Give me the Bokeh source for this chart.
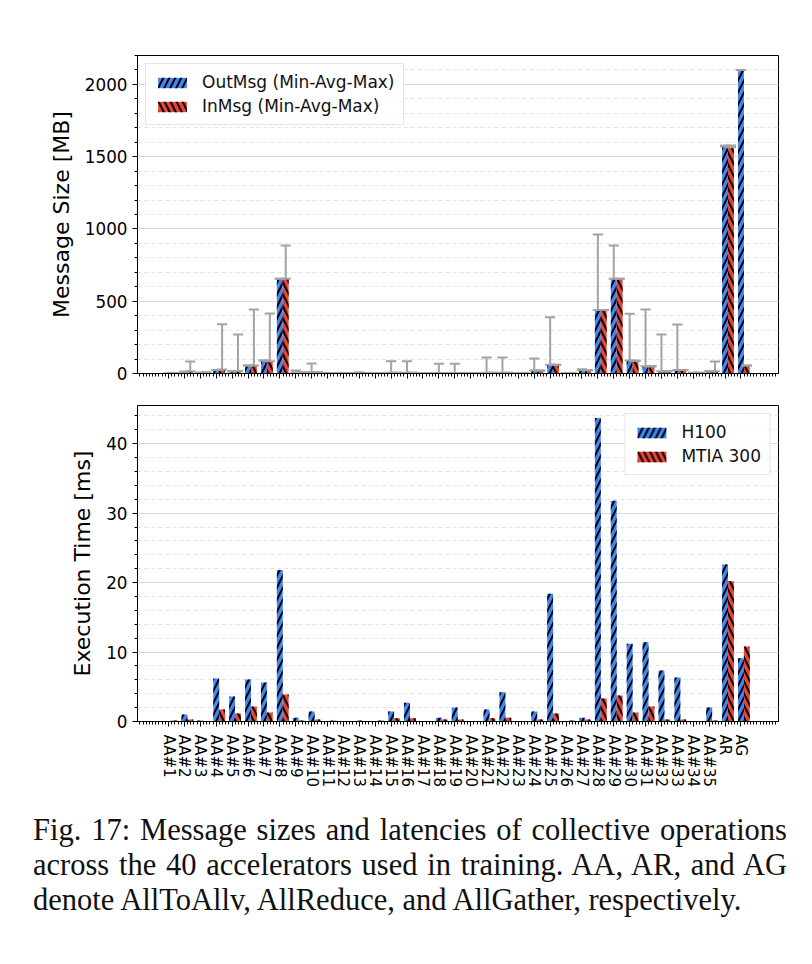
import numpy as np

from bokeh.plotting import figure
from bokeh.models import Range1d, FixedTicker, Legend, LegendItem, Div, ColumnDataSource
from bokeh.layouts import column
from bokeh.embed import file_html
from bokeh.resources import INLINE

# collective ops on the x axis
ops = [f"AA#{i}" for i in range(1, 36)] + ["AR", "AG"]

# message sizes [MB], average per op, and the max of the min-max whisker
out_avg = [1, 12, 5, 25, 15, 55, 90, 655, 8, 10, 1, 1, 3, 1, 5, 5, 1, 4, 4, 1,
           5, 5, 1, 20, 60, 1, 25, 440, 655, 90, 50, 15, 25, 5, 15, 1570, 2100]
in_avg = [1, 15, 5, 28, 18, 55, 85, 655, 8, 10, 1, 1, 3, 1, 5, 5, 1, 4, 4, 1,
          5, 5, 1, 20, 60, 1, 22, 440, 655, 88, 50, 15, 25, 5, 15, 1565, 55]
out_max = [1, 12, 5, 25, 15, 55, 90, 655, 20, 70, 1, 1, 8, 1, 85, 85, 1, 67, 67, 1,
           110, 110, 1, 104, 390, 1, 30, 962, 886, 413, 443, 270, 339, 5, 15, 1578, 2100]
in_max = [1, 83, 8, 340, 270, 443, 415, 886, 8, 10, 1, 1, 3, 1, 5, 5, 1, 4, 4, 1,
          5, 5, 1, 20, 60, 1, 22, 440, 655, 88, 50, 15, 25, 5, 83, 1578, 55]

# execution time [ms]
h100 = [0, 1.0, 0.15, 6.2, 3.6, 6.05, 5.6, 21.8, 0.55, 1.45, 0, 0, 0.15, 0, 1.45, 2.7, 0, 0.55, 2.0, 0,
        1.73, 4.2, 0, 1.45, 18.4, 0, 0.55, 43.7, 31.8, 11.2, 11.4, 7.35, 6.35, 0, 2.0, 22.6, 9.1]
mtia = [0.15, 0.3, 0, 1.73, 1.15, 2.15, 1.3, 3.9, 0.15, 0.3, 0.15, 0, 0, 0.15, 0.45, 0.45, 0, 0.3, 0.3, 0,
        0.45, 0.55, 0, 0.3, 1.15, 0.15, 0.3, 3.3, 3.75, 1.3, 2.15, 0.3, 0.3, 0, 0.15, 20.2, 10.8]

BLUE = "#4285F4"
RED = "#EA4335"
GRAY = "#a3a3a3"
FONT = "DejaVu Sans"
W = 0.37
x = np.arange(len(ops))


def style(p, ylabel, yticks, yminor):
    p.outline_line_color = "black"
    p.xgrid.visible = False
    yt = FixedTicker(ticks=yticks, minor_ticks=yminor)
    p.yaxis.ticker = yt
    p.ygrid.ticker = yt
    p.ygrid.grid_line_color = "#d9d9d9"
    p.ygrid.grid_line_width = 1
    p.ygrid.minor_grid_line_color = "#e3e3e3"
    p.ygrid.minor_grid_line_dash = "4 3"
    p.xaxis.ticker = FixedTicker(ticks=list(range(len(ops))),
                                 minor_ticks=list(np.round(np.arange(-1.8, 38.4, 0.2), 2)))
    for ax in (p.xaxis, p.yaxis):
        ax.axis_line_color = "black"
        ax.major_tick_line_color = "black"
        ax.minor_tick_line_color = "black"
        ax.major_tick_in = 0
        ax.major_tick_out = 5
        ax.minor_tick_in = 0
        ax.minor_tick_out = 3
        ax.major_label_text_color = "black"
        ax.major_label_text_font = FONT
    p.yaxis.major_label_text_font_size = "16.8px"
    p.yaxis.axis_label = ylabel
    p.yaxis.axis_label_text_font = FONT
    p.yaxis.axis_label_text_font_size = "22px"
    p.yaxis.axis_label_text_font_style = "normal"
    p.yaxis.axis_label_text_color = "black"
    p.yaxis.axis_label_standoff = 8


def bars(p, xs, tops, color, hatch):
    return p.vbar(x=xs, top=tops, width=W, fill_color=color, line_color=None,
                  hatch_pattern=hatch, hatch_color="black", hatch_scale=12, hatch_weight=2)


def legend(p, items, loc):
    lg = Legend(items=items, location=loc)
    lg.label_text_font = FONT
    lg.label_text_font_size = "17px"
    lg.label_text_color = "#111111"
    lg.border_line_color = "#cccccc"
    lg.background_fill_alpha = 0.85
    lg.glyph_width = 36
    lg.glyph_height = 13
    lg.label_standoff = 12
    lg.padding = 8
    lg.spacing = 4
    lg.margin = 8
    p.add_layout(lg)


# --- message size
p1 = figure(width=800, height=389, x_range=Range1d(-1.95, 38.36), y_range=Range1d(0, 2200),
            output_backend="svg", toolbar_location=None,
            min_border_left=137, min_border_right=22, min_border_top=55, min_border_bottom=16)
style(p1, "Message Size [MB]", [0, 500, 1000, 1500, 2000], list(range(0, 2201, 100)))
p1.xaxis.major_label_overrides = {i: "" for i in range(len(ops))}

r_out = bars(p1, x, out_avg, BLUE, "/")
r_in = bars(p1, x + W, in_avg, RED, "\\")

for xs, lo, hi in ((x, out_avg, out_max), (x + W, in_avg, in_max)):
    lo = np.array(lo, dtype=float)
    hi = np.array(hi, dtype=float)
    src = ColumnDataSource(dict(x=xs, lo=lo, hi=hi, x0=xs - 0.32, x1=xs + 0.32))
    p1.segment(x0="x", y0="lo", x1="x", y1="hi", source=src, line_color=GRAY, line_width=2)
    p1.segment(x0="x0", y0="lo", x1="x1", y1="lo", source=src, line_color=GRAY, line_width=2)
    p1.segment(x0="x0", y0="hi", x1="x1", y1="hi", source=src, line_color=GRAY, line_width=2)

legend(p1, [LegendItem(label="OutMsg (Min-Avg-Max)", renderers=[r_out]),
            LegendItem(label="InMsg (Min-Avg-Max)", renderers=[r_in])], "top_left")

# --- execution time
p2 = figure(width=800, height=412, x_range=p1.x_range, y_range=Range1d(0, 45.5),
            output_backend="svg", toolbar_location=None,
            min_border_left=137, min_border_right=22, min_border_top=16, min_border_bottom=80)
style(p2, "Execution Time [ms]", [0, 10, 20, 30, 40], list(range(0, 46, 2)))
p2.xaxis.major_label_overrides = {i: ops[i] for i in range(len(ops))}
p2.xaxis.major_label_orientation = "vertical"
p2.xaxis.major_label_text_font_size = "15px"
p2.xaxis.major_label_standoff = 8

r_h = bars(p2, x, h100, BLUE, "/")
r_m = bars(p2, x + W, mtia, RED, "\\")
legend(p2, [LegendItem(label="H100", renderers=[r_h]),
            LegendItem(label="MTIA 300", renderers=[r_m])], "top_right")

just = "text-align:justify;text-align-last:justify;width:754px;"
caption = Div(text=(
    f'<div style="{just}">Fig. 17: Message sizes and latencies of collective operations</div>'
    f'<div style="{just}">across the 40 accelerators used in training. AA, AR, and AG</div>'
    '<div style="width:754px;">denote AllToAllv, AllReduce, and AllGather, respectively.</div>'),
    width=800,
    styles={"font-family": "Liberation Serif", "font-size": "30.5px", "line-height": "35px",
            "color": "#111111", "padding-left": "28px", "margin-top": "12px"})

p = column(p1, p2, caption, spacing=0)
open("out.html", "w").write(file_html(p, INLINE))
